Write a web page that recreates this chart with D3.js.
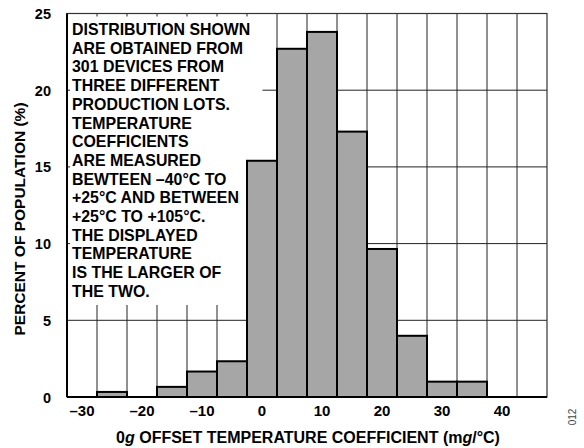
<!DOCTYPE html>
<html>
<head>
<meta charset="utf-8">
<script src="https://cdn.jsdelivr.net/npm/d3@7"></script>
<style>
  body { margin: 0; background: #fff; }
  text { font-family: "Liberation Sans", Arial, sans-serif; font-weight: bold; }
</style>
</head>
<body>
<svg width="584" height="448"></svg>
<script>
// bin centres (mg/°C) and percent of population
var binCenters = [-30, -25, -20, -15, -10, -5, 0, 5, 10, 15, 20, 25, 30, 35, 40, 45];
var percents   = [0, 0.33, 0, 0.66, 1.66, 2.33, 15.4, 22.7, 23.8, 17.3, 9.65, 3.99, 1.0, 1.0, 0, 0];
var xTicks = [-30, -20, -10, 0, 10, 20, 30, 40];
var yTicks = [0, 5, 10, 15, 20, 25];
var note = [
  "DISTRIBUTION SHOWN",
  "ARE OBTAINED FROM",
  "301 DEVICES FROM",
  "THREE DIFFERENT",
  "PRODUCTION LOTS.",
  "TEMPERATURE",
  "COEFFICIENTS",
  "ARE MEASURED",
  "BEWTEEN \u201340\u00b0C TO",
  "+25\u00b0C AND BETWEEN",
  "+25\u00b0C TO +105\u00b0C.",
  "THE DISPLAYED",
  "TEMPERATURE",
  "IS THE LARGER OF",
  "THE TWO."
];
var binWidth = 5;

(function() {
  var pl = 67, pr = 547, pt = 13.5, pb = 397;
  var svg = d3.select("svg");

  var x = d3.scaleLinear().domain([-32.5, 47.5]).range([pl, pr]);
  var y = d3.scaleLinear().domain([0, 25]).range([pb, pt]);

  var gridColor = "#222";

  // grid
  var edges = binCenters.slice(1).map(function(c) { return c - binWidth / 2; });
  svg.append("g").selectAll("line").data(edges).enter().append("line")
    .attr("x1", function(d) { return x(d); }).attr("x2", function(d) { return x(d); })
    .attr("y1", y(0)).attr("y2", y(25))
    .attr("stroke", gridColor).attr("stroke-width", 1);
  svg.append("g").selectAll("line").data(yTicks.slice(1, 5)).enter().append("line")
    .attr("x1", pl).attr("x2", pr)
    .attr("y1", function(d) { return y(d); }).attr("y2", function(d) { return y(d); })
    .attr("stroke", gridColor).attr("stroke-width", 1);

  // white panel behind the note
  svg.append("rect")
    .attr("x", pl + 0.5).attr("y", pt + 0.5)
    .attr("width", 195).attr("height", 291)
    .attr("fill", "#fff");

  // small tick stubs on top and left edges inside the panel
  svg.append("g").selectAll("line").data(edges.filter(function(d) { return x(d) < pl + 196; })).enter().append("line")
    .attr("x1", function(d) { return x(d); }).attr("x2", function(d) { return x(d); })
    .attr("y1", pt).attr("y2", pt + 3)
    .attr("stroke", gridColor);
  svg.append("g").selectAll("line").data([10, 15, 20]).enter().append("line")
    .attr("x1", pl).attr("x2", pl + 3)
    .attr("y1", function(d) { return y(d); }).attr("y2", function(d) { return y(d); })
    .attr("stroke", gridColor);

  // bars
  var bins = binCenters.map(function(c, i) { return { c: c, v: percents[i] }; })
    .filter(function(d) { return d.v > 0; });
  svg.append("g").selectAll("rect").data(bins).enter().append("rect")
    .attr("x", function(d) { return x(d.c - binWidth / 2); })
    .attr("width", x(binWidth) - x(0))
    .attr("y", function(d) { return y(d.v); })
    .attr("height", function(d) { return y(0) - y(d.v); })
    .attr("fill", "#a6a6a6")
    .attr("stroke", "#000")
    .attr("stroke-width", 2);

  // frame
  svg.append("rect")
    .attr("x", pl).attr("y", pt)
    .attr("width", pr - pl).attr("height", pb - pt)
    .attr("fill", "none").attr("stroke", "#333").attr("stroke-width", 1.2);
  svg.append("line")
    .attr("x1", pl).attr("x2", pr).attr("y1", pb).attr("y2", pb)
    .attr("stroke", "#000").attr("stroke-width", 2);
  svg.append("line")
    .attr("x1", pl).attr("x2", pl).attr("y1", pt).attr("y2", pb)
    .attr("stroke", "#000").attr("stroke-width", 2);

  // note text
  svg.append("g").selectAll("text").data(note).enter().append("text")
    .attr("x", 72)
    .attr("y", function(d, i) { return 35 + i * 18.7; })
    .attr("font-size", 15.9)
    .attr("fill", "#000")
    .text(function(d) { return d; });

  // tick labels
  svg.append("g").selectAll("text").data(xTicks).enter().append("text")
    .attr("x", function(d) { return x(d); })
    .attr("y", 416)
    .attr("text-anchor", "middle")
    .attr("font-size", 15)
    .text(function(d) { return d < 0 ? "\u2013" + Math.abs(d) : d; });
  svg.append("g").selectAll("text").data(yTicks).enter().append("text")
    .attr("x", 51)
    .attr("y", function(d) { return y(d) + 5.5; })
    .attr("text-anchor", "end")
    .attr("font-size", 14.5)
    .text(function(d) { return d; });

  // axis titles
  var xt = svg.append("text")
    .attr("x", 308).attr("y", 443)
    .attr("text-anchor", "middle")
    .attr("font-size", 16);
  xt.append("tspan").text("0");
  xt.append("tspan").attr("font-style", "italic").text("g");
  xt.append("tspan").text(" OFFSET TEMPERATURE COEFFICIENT (m");
  xt.append("tspan").attr("font-style", "italic").text("g");
  xt.append("tspan").text("/\u00b0C)");

  svg.append("text")
    .attr("transform", "translate(25,219) rotate(-90)")
    .attr("text-anchor", "middle")
    .attr("font-size", 15.5)
    .text("PERCENT OF POPULATION (%)");

  svg.append("text")
    .attr("transform", "translate(576,417) rotate(-90)")
    .attr("text-anchor", "middle")
    .attr("font-size", 10)
    .style("font-weight", "normal")
    .attr("fill", "#444")
    .text("012");
})();
</script>
</body>
</html>
